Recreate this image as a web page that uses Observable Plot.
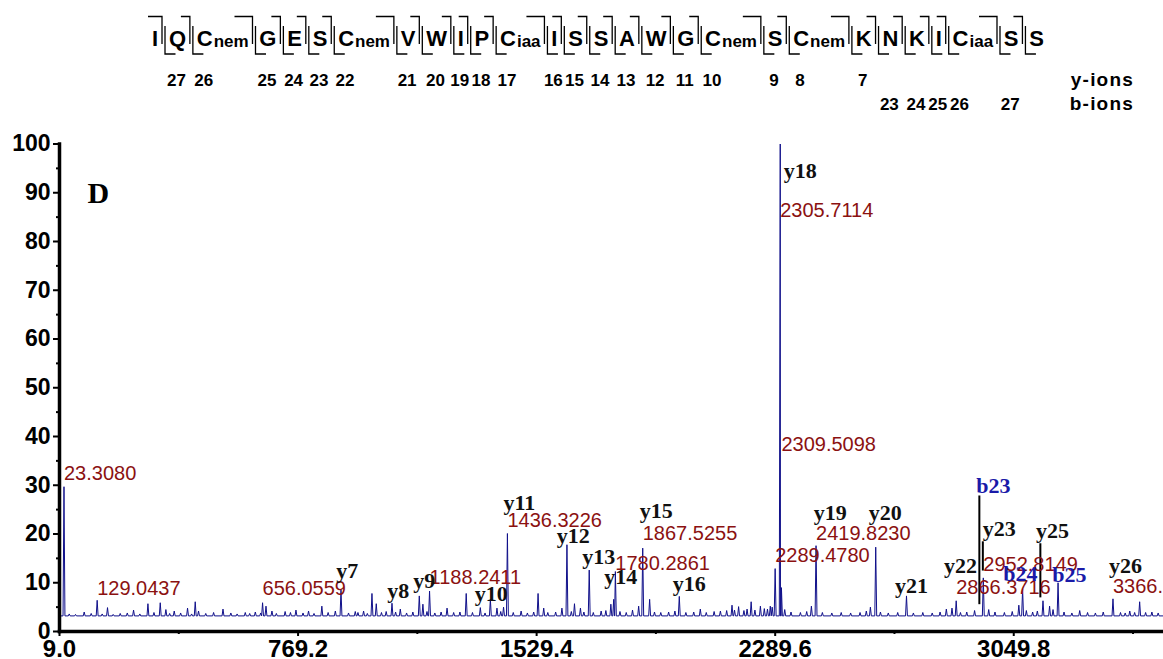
<!DOCTYPE html>
<html><head><meta charset="utf-8">
<script src="https://cdn.jsdelivr.net/npm/d3@7"></script>
<script src="https://cdn.jsdelivr.net/npm/@observablehq/plot@0.6"></script>
<style>
html,body{margin:0;padding:0;background:#fff;overflow:hidden}
svg{display:block}
</style></head><body>
<div id="header"></div>
<div id="chart"></div>
<script>
// ---------- data ----------
const residues  = ["I","Q","C","G","E","S","C","V","W","I","P","C","I","S","S","A","W","G","C","S","C","K","N","K","I","C","S","S"];
const modifiers = ["","","nem","","","","nem","","","","","iaa","","","","","","","nem","","nem","","","","","iaa","",""];
const yIonNumbers = [27,26,25,24,23,22,21,20,19,18,17,16,15,14,13,12,11,10,9,8,7];
const bIonNumbers = [23,24,25,26,27];

const peakMz = [23.3,87.7,129.0,162,202.5,245,290.8,330,348,374.6,417,441.5,452,530,601,633,656.1,667,686,728,762.5,802.6,845,888,906,951.5,978,1004.7,1018.4,1068.5,1095,1155.5,1167,1188.2,1244,1305,1350,1382,1403,1424,1436.3,1534,1552,1610,1626,1650,1669,1697,1766,1775,1780.3,1854.5,1867.5,1889.5,1984,2051,2152,2173,2213,2242.5,2274,2289.5,2305.7,2309.5,2405,2419.8,2593,2610,2708,2835,2853,2866.4,2952.8,3066,3078,3143,3164,3191,3260,3366,3419.5,3451];
const peakIntensity = [29.7,4.0,6.4,4.9,3.7,4.4,5.7,5.9,4.5,4.2,4.8,6.1,4.2,4.6,3.9,4.0,5.9,5.2,4.2,4.1,4.4,4.2,5.2,4.2,8.5,4.1,4.2,7.8,5.7,5.8,4.6,7.3,5.6,8.3,4.8,7.8,4.9,6.6,4.8,5.0,20.1,7.8,4.8,4.8,17.8,5.7,4.8,12.6,5.6,6.6,12.3,5.2,17.1,6.6,7.2,4.6,5.4,5.1,6.1,5.2,5.2,12.9,100,9,5.2,17.6,5.0,17.3,7.3,4.6,4.8,6.3,11.0,5.4,8.7,6.3,5.2,10.0,4.3,6.7,4.2,6.1];
// small baseline bumps (noise)
const noiseMz = [40,60,110,145,180,225,265,310,360,395,430,475,500,555,575,615,650,700,745,785,820,865,930,960,990,1035,1050,1080,1115,1135,1180,1205,1225,1265,1285,1325,1365,1415,1455,1480,1500,1520,1565,1590,1640,1680,1710,1735,1750,1795,1815,1835,1905,1925,1950,1970,2005,2030,2070,2095,2115,2135,2160,2190,2200,2225,2255,2265,2280,2320,2340,2370,2390,2440,2470,2500,2530,2560,2580,2625,2650,2680,2730,2760,2790,2815,2880,2900,2925,2970,2990,3020,3045,3090,3110,3125,3175,3210,3235,3285,3310,3335,3390,3405,3435,3470,3490,3510];
const noiseIntensity = [3.6,3.5,3.7,3.6,3.5,3.8,3.6,3.9,3.7,3.8,3.6,3.7,3.9,3.8,3.6,3.7,3.8,3.7,3.9,3.8,3.7,3.9,3.8,3.9,3.7,3.9,4.1,4.0,3.8,4.0,4.1,3.8,4.0,3.9,4.0,3.9,3.8,4.1,3.9,4.2,3.8,4.0,3.9,4.0,4.1,4.0,3.9,4.2,4.3,4.1,3.9,4.4,4.0,3.9,4.0,4.2,3.9,4.0,3.9,4.1,4.2,4.3,4.4,4.3,4.6,4.4,4.7,4.6,5.0,4.5,4.0,3.9,4.1,3.9,3.8,3.9,3.8,3.9,4.2,4.0,3.8,3.9,3.8,3.9,3.8,4.0,3.9,4.0,4.3,4.5,4.0,3.9,4.1,4.3,4.0,4.2,4.5,4.0,3.8,3.9,3.8,4.0,3.9,3.8,3.9,3.9,4.0,3.8];
const baselineLevel = 3.2;

const mzLabels = ["23.3080","129.0437","656.0559","1188.2411","1436.3226","1780.2861","1867.5255","2305.7114","2309.5098","2289.4780","2419.8230","2952.8149","2866.3716","3366."];
const mzLabelLevel = [32.3,8.7,8.7,11.0,22.7,13.9,20.0,86.3,38.3,15.5,20.1,13.7,9.0,9.3];

const ionLabels = ["y7","y8","y9","y10","y11","y12","y13","y14","y15","y16","y18","y19","y20","y21","y22","y23","y25","y26","b23","b24","b25"];
const ionLabelMz = [926,1088.5,1171.4,1384.9,1474.1,1646.3,1727.5,1797.6,1910.8,2016,2369.8,2465.4,2640.7,2723.6,2879.8,3003.9,3172.9,3405.6,2984.8,3071,3227.1];
const ionLabelLevel = [12.4,8.3,10.4,7.7,26.4,19.6,15.2,11.2,24.7,9.8,94.4,24.4,24.4,9.3,13.4,21.0,20.6,13.4,29.9,11.8,11.6];

const markerMz = [2940.2,2951.3,3134.6];
const markerLow = [5.5,12.4,6.9];
const markerHigh = [27.8,18.4,18.0];

const xTicks = [9.0,769.2,1529.4,2289.6,3049.8];
const xMinorTicks = [389.1,1149.3,1909.5,2669.7,3429.9];
const yTicks = [0,10,20,30,40,50,60,70,80,90,100];
const yMinorTicks = [5,15,25,35,45,55,65,75,85,95];

// ---------- header (sequence with fragment brackets) ----------
const W = 1163, HEADER_H = 125, PLOT_H = 534;
const SANS = "'Liberation Sans', Arial, Helvetica, sans-serif";
const SERIF = "'Liberation Serif', 'Times New Roman', serif";

const hsvg = d3.create("svg").attr("width", W).attr("height", HEADER_H)
  .attr("font-family", SANS).attr("font-weight", "bold");
document.getElementById("header").appendChild(hsvg.node());

const groups = residues.map((r, i) => {
  const main = hsvg.append("text").attr("y", 46).attr("font-size", 22).text(r);
  const mw = main.node().getComputedTextLength();
  let sub = null, sw = 0;
  if (modifiers[i]) {
    sub = hsvg.append("text").attr("y", 47).attr("font-size", 17).text(modifiers[i]);
    sw = sub.node().getComputedTextLength() + 1;
  }
  return {main, sub, mw, sw, w: mw + sw};
});
const startX = 152, endX = 1044;
const gap = (endX - startX - d3.sum(groups, g => g.w)) / (residues.length - 1);
let cur = startX;
groups.forEach(g => {
  g.x = cur;
  g.main.attr("x", cur);
  if (g.sub) g.sub.attr("x", cur + g.mw + 1);
  g.center = cur + g.mw / 2;
  g.end = cur + g.w;
  cur += g.w + gap;
});
const paths = [];
for (let i = 0; i < groups.length - 1; i++) {
  const b = groups[i].end + gap / 2;
  const topLen = i === 0 ? 14 : (groups[i].sub ? 18 : 9);
  paths.push(`M${b - 1.5 - topLen},16.5H${b - 1.5}V44`);
  paths.push(`M${b + 1.5},26V54H${b + 12}`);
}
hsvg.append("path").attr("d", paths.join("")).attr("fill", "none")
  .attr("stroke", "#000").attr("stroke-width", 1.3);

yIonNumbers.forEach(n => {
  const g = groups[28 - n];
  hsvg.append("text").attr("x", g.center - 1).attr("y", 86).attr("font-size", 17)
    .attr("text-anchor", "middle").text(n);
});
bIonNumbers.forEach(n => {
  const g = groups[n - 1];
  hsvg.append("text").attr("x", g.center - 1).attr("y", 110).attr("font-size", 17)
    .attr("text-anchor", "middle").text(n);
});
hsvg.append("text").attr("x", 1134).attr("y", 86).attr("font-size", 19)
  .attr("letter-spacing", 1.2).attr("text-anchor", "end").text("y-ions");
hsvg.append("text").attr("x", 1134).attr("y", 110).attr("font-size", 19)
  .attr("letter-spacing", 1.2).attr("text-anchor", "end").text("b-ions");

// ---------- spectrum ----------
const allPeaks = peakMz.map((mz, k) => ({mz, i: peakIntensity[k]}))
  .concat(noiseMz.map((mz, k) => ({mz, i: noiseIntensity[k]})));
const halfWidth = 3;
const trace = [{mz: 12, i: baselineLevel}, {mz: 3530, i: baselineLevel}];
allPeaks.forEach(p => {
  trace.push({mz: p.mz - halfWidth, i: baselineLevel});
  trace.push({mz: p.mz, i: p.i});
  trace.push({mz: p.mz + halfWidth, i: baselineLevel});
});
trace.sort((a, b) => a.mz - b.mz);

const mzLabelData = mzLabels.map((t, k) => ({t, mz: parseFloat(t), y: mzLabelLevel[k]}));
const ionData = ionLabels.map((t, k) => ({t, mz: ionLabelMz[k], y: ionLabelLevel[k], b: t[0] === "b"}));
const markerData = markerMz.map((mz, k) => ({mz, lo: markerLow[k], hi: markerHigh[k]}));

const chart = Plot.plot({
  width: W, height: PLOT_H,
  marginLeft: 59, marginRight: 0, marginTop: 18.5, marginBottom: 28,
  x: {domain: [9, 3527], axis: null},
  y: {domain: [0, 100], axis: null},
  style: {fontFamily: SANS, background: "white", overflow: "hidden"},
  marks: [
    Plot.line(trace, {x: "mz", y: "i", stroke: "#10108a", strokeWidth: 1}),
    Plot.ruleX(markerData, {x: "mz", y1: "lo", y2: "hi", stroke: "#000", strokeWidth: 2}),
    Plot.frame({anchor: "left", strokeWidth: 3.5, stroke: "#000"}),
    Plot.frame({anchor: "bottom", strokeWidth: 3.5, stroke: "#000"}),
    Plot.axisY({ticks: yTicks, tickSize: 6, tickPadding: 3, fontSize: 23, fontWeight: "bold", strokeWidth: 2, label: null, fill: "#000"}),
    Plot.axisY({ticks: yMinorTicks, tickSize: 3, tickFormat: () => "", strokeWidth: 2, label: null}),
    Plot.axisX({ticks: xTicks, tickFormat: d => d.toFixed(1), tickSize: 5, tickPadding: 3, fontSize: 24, fontWeight: "bold", strokeWidth: 2, label: null, fill: "#000"}),
    Plot.axisX({ticks: xMinorTicks, tickSize: 3, tickFormat: () => "", strokeWidth: 2, label: null}),
    Plot.text(mzLabelData, {x: "mz", y: "y", text: "t", textAnchor: "start", lineAnchor: "middle", fill: "#8b1111", fontSize: 20, fontFamily: SANS}),
    Plot.text(ionData, {x: "mz", y: "y", text: "t", textAnchor: "middle", lineAnchor: "middle", fill: d => d.b ? "#1a1aa8" : "#111", fontSize: 22, fontWeight: "bold", fontFamily: SERIF}),
    Plot.text(["D"], {frameAnchor: "top-left", dx: 28, dy: 49, textAnchor: "start", lineAnchor: "middle", fontSize: 30, fontWeight: "bold", fontFamily: SERIF, fill: "#000"})
  ]
});
document.getElementById("chart").appendChild(chart);
</script>
</body></html>
